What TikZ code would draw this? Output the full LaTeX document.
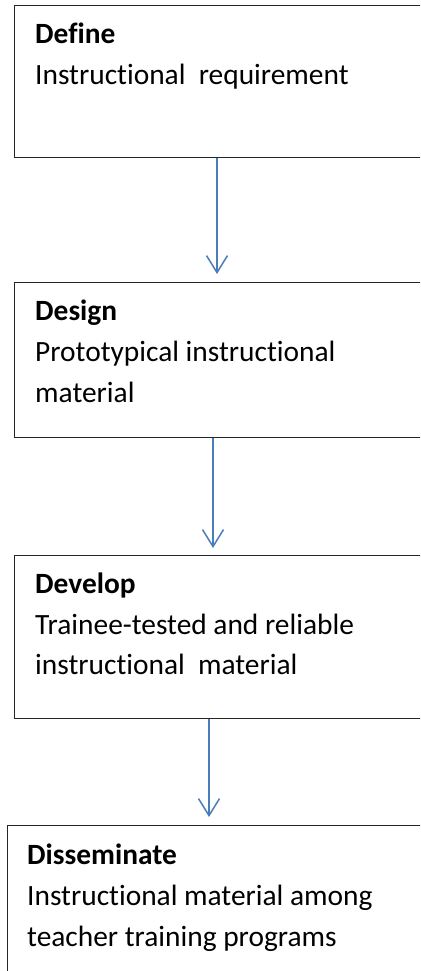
\documentclass[tikz,border=0pt]{standalone}
\usepackage{fontspec}
\setmainfont{Carlito}[Ligatures=NoCommon]
\usetikzlibrary{arrows.meta}
\definecolor{arrblue}{RGB}{74,126,187}
\begin{document}
\begin{tikzpicture}[x=1pt,y=-1pt,
  box/.style={draw=black!85, line width=0.9pt, anchor=north west, inner sep=0pt, minimum width=440pt},
  txt/.style={anchor=base west, inner sep=0pt, font=\fontsize{29.4}{34}\selectfont},
  head/.style={anchor=base west, inner sep=0pt, font=\fontsize{29.4}{34}\selectfont\bfseries},
  arr/.style={draw=arrblue, line width=1.5pt, -{Straight Barb[length=17pt,width=21pt,line width=1.5pt]}}]
\useasboundingbox (0,0) rectangle (420,971);
\clip (0,0) rectangle (420,971);
% boxes
\node[box, minimum height=152pt] (b1) at (14,5) {};
\node[box, minimum height=155pt] (b2) at (14,282) {};
\node[box, minimum height=163pt] (b3) at (14,555) {};
\node[box, minimum height=200pt] (b4) at (7,825) {};
% texts
\node[head] (t1a) at (35,44) {Define};
\node[txt]  (t1b) at (35,85) {Instructional\ \ requirement};
\node[head] (t2a) at (35,320) {Design};
\node[txt]  (t2b) at (35,361) {Prototypical instructional};
\node[txt]  (t2c) at (35,402) {material};
\node[head] (t3a) at (35,593) {Develop};
\node[txt]  (t3b) at (35,634) {Trainee-tested and reliable};
\node[txt]  (t3c) at (35,674) {instructional\ \ material};
\node[head] (t4a) at (27,864) {Disseminate};
\node[txt]  (t4b) at (27,905) {Instructional material among};
\node[txt]  (t4c) at (27,946) {teacher training programs};
% arrows
\coordinate (x1) at (217,0);
\coordinate (x2) at (213,0);
\coordinate (x3) at (209,0);
\coordinate (e1) at (217,274);
\coordinate (e2) at (213,548);
\coordinate (e3) at (209,817);
\draw[arr] (b1.south -| x1) -- (e1);
\draw[arr] (b2.south -| x2) -- (e2);
\draw[arr] (b3.south -| x3) -- (e3);
\end{tikzpicture}
\end{document}
